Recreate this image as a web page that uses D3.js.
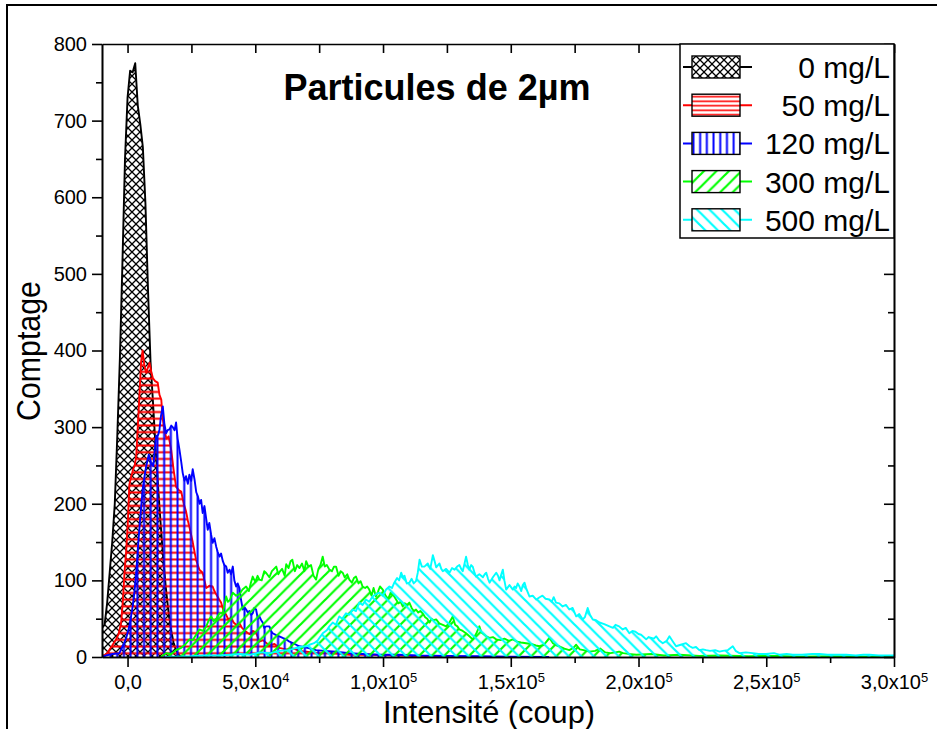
<!DOCTYPE html>
<html><head><meta charset="utf-8">
<script src="https://cdn.jsdelivr.net/npm/d3@7"></script>
<style>
html,body{margin:0;padding:0;background:#fff;}
svg{display:block;font-family:"Liberation Sans",Arial,Helvetica,sans-serif;}
</style></head><body>
<svg id="chart" width="937" height="729"></svg>
<script>
// ---------- DATA (intensity in thousands of coups, count) ----------
const seriesNames = ["0 mg/L", "50 mg/L", "120 mg/L", "300 mg/L", "500 mg/L"];
const titleText = "Particules de 2µm";
const xTitle = "Intensité (coup)";
const yTitle = "Comptage";
const yTickValues = [0, 100, 200, 300, 400, 500, 600, 700, 800];
const yMinorValues = [50, 150, 250, 350, 450, 550, 650, 750];
const xTickValues = [0, 50000, 100000, 150000, 200000, 250000, 300000];
const xMinorValues = [25000, 75000, 125000, 175000, 225000, 275000];
const xTickMantissa = ["0,0", "5,0x10", "1,0x10", "1,5x10", "2,0x10", "2,5x10", "3,0x10"];
const xTickExponent = ["", "4", "5", "5", "5", "5", "5"];

const data0 = [[-10,38],[-9,42],[-8,70],[-7,110],[-6,150],[-5,200],[-4,290],[-3,390],[-2,515],[-1,650],
 [0,730],[1,765],[2,763],[3,775],[4,720],[5,695],[6,665],[7,592],[8,480],[9,385],[10,330],[11,272],
 [12,220],[13,172],[14,128],[15,90],[16,60],[17,36],[18,19],[19,9],[20,3],[21,0]];

const data50 = [[-10,0],[-8,5],[-6,15],[-4.5,23],[-3.5,30],[-2.5,45],[-1.8,75],[-1.2,110],[-0.5,140],
 [0.1,175],[0.7,225],[1.4,235],[2.2,245],[2.8,250],[3.4,262],[4.0,300],[4.7,345],[5.3,385],[5.9,400],
 [6.6,380],[7.3,371],[8.0,378],[8.6,384],[9.3,372],[9.9,364],[10.8,360],[11.8,358],[12.5,342],[13.2,336],
 [13.8,310],[14.4,297],[15.2,285],[16.1,288],[17.1,270],[18.0,245],[19.0,222],[20.0,218],[21.0,216],
 [22.0,200],[22.9,190],[23.6,178],[24.2,170],[25.5,150],[26.8,127],[28.1,114],[29.4,110],[30.1,100],
 [30.8,90],[32.0,93],[33.3,92],[34.0,86],[34.7,82],[35.7,76],[36.6,71],[37.6,60],[38.6,55],[39.6,48],
 [40.5,52],[41.5,45],[42.5,42],[43.8,44],[44.8,38],[46.0,34],[47.7,30],[49.0,34],[50.3,32],[51.6,20],
 [53.0,22],[55.5,15],[57.5,17],[59.4,12],[62,10],[65,11],[67.3,8],[70,7],[75,5],[80,5],[87,3],[95,3],
 [106,2],[115,1],[126,0]];

const data120 = [[-10,0],[-8.4,2],[-5.9,4],[-3.2,5],[-1.9,14],[-0.5,25],[0.7,40],[2.0,66],[2.7,85],[3.4,110],
 [4.0,140],[4.7,170],[5.3,195],[5.9,218],[6.6,235],[7.3,249],[8.3,264],[9.2,254],[10.1,249],[10.6,268],
 [11.2,288],[12.0,290],[12.5,297],[13.1,315],[13.8,327],[14.4,305],[15.1,292],[15.7,296],[16.4,297],
 [17.1,302],[17.7,300],[18.4,296],[19.0,306],[19.6,285],[20.3,271],[21.0,255],[21.6,240],[22.3,230],
 [22.9,236],[23.6,226],[24.2,238],[24.9,230],[25.5,245],[26.2,232],[26.9,215],[27.5,210],[28.2,200],
 [28.8,205],[29.4,188],[30.1,197],[30.8,180],[31.4,166],[32.0,175],[32.7,160],[33.3,149],[34.0,155],
 [34.7,144],[35.3,137],[36.0,131],[36.6,135],[37.3,125],[37.9,120],[38.6,118],[39.2,110],[39.9,114],
 [40.5,108],[41.2,118],[41.8,100],[42.5,92],[43.1,96],[43.8,90],[44.4,75],[45.1,62],[45.8,65],[46.4,62],
 [47.1,58],[47.7,60],[48.4,55],[49.0,57],[49.6,64],[50.3,62],[51.0,50],[51.6,53],[52.3,48],[52.9,45],
 [53.5,38],[54.2,40],[55.5,40],[56.2,34],[56.8,31],[58.0,29],[59.4,27],[60.7,25],[62.1,23],[63.4,20],
 [64.7,18],[66,16],[67.3,14],[70.4,12],[73.8,9],[77,8],[81.6,7],[86.8,5],[92,4],[98.6,3],[106,3],
 [114,2],[125,1.5],[138,1],[150,0.5],[165,0]];

const data300 = [[13,0],[15.1,5],[17,4],[19.0,9],[21,12],[22.5,16],[24.2,23],[25.5,22],[27,30],[28.1,36],
 [29.5,34],[30.8,40],[31.8,48],[32.7,53],[33.7,47],[34.7,50],[36.0,57],[37.3,58],[38.0,68],[38.6,79],
 [39.3,72],[40,74],[41.2,84],[42.5,80],[43.8,82],[45,88],[46.4,92],[47.5,86],[48.2,96],[49.0,105],
 [50,98],[50.9,106],[51.6,101],[52.5,100],[53.5,112],[54.2,110],[55.5,104],[56.5,112],[58.2,118],
 [59.0,108],[59.5,111],[60.5,115],[61.5,106],[62.1,121],[63,116],[63.8,125],[64.5,127],[65.5,112],
 [66.4,120],[67.3,116],[68.3,122],[69.2,112],[69.9,125],[70.8,118],[71.8,120],[72.8,106],[73.8,101],
 [74.7,115],[75.5,120],[76.4,131],[77.2,118],[78.0,120],[79.0,114],[80,112],[80.8,118],[81.6,118],
 [82.6,106],[83.4,112],[84.2,110],[85,104],[86,108],[86.8,101],[87.8,97],[88.6,103],[89.4,105],
 [90.4,96],[91.2,99],[92.0,92],[93,90],[93.8,92],[94.6,88],[95.5,80],[96.3,90],[97.2,79],[98,85],
 [98.8,92],[99.9,88],[101,80],[102,76],[103,84],[104.2,80],[105.1,75],[106,70],[106.9,72],[107.7,66],
 [108.5,70],[109.4,68],[110.3,71],[111.2,64],[112,60],[112.9,62],[113.8,58],[114.6,60],[115.5,57],
 [116.5,52],[117.3,50],[118.2,45],[119,50],[119.8,48],[120.8,49],[122,44],[123.4,42],[124.7,40],
 [126,45],[127.3,53],[128.2,42],[129.1,40],[129.9,36],[131.2,34],[132.5,31],[133.8,27],[135.1,23],
 [136.4,30],[137.7,40],[138.5,32],[139.3,30],[140.4,27],[141.7,25],[143,26],[144.3,23],[146,22],
 [147.5,24],[149.3,21],[150.8,23],[152.5,20],[154,19],[156,18],[158,17],[159.8,15],[161.2,14],
 [163,16],[165.1,25],[166.5,18],[168,15],[169,14],[171,11],[172.9,9],[174.5,12],[175.6,16],[177,10],
 [178.5,9],[180.8,7],[183,8],[185,11],[187,6],[189,5],[191,6],[192.4,7],[194,5],[196,4],[199.2,3],
 [205,4],[210,2],[216,3],[223.8,1.5],[232,2],[243,1],[255,1.5],[263,0.5],[275,1],[290,0.5],[300,0.5]];

const data500 = [[15,0],[25,1],[30,2],[36,2],[40,3],[44,4],[48,3],[52,6],[56,5],[59.4,8],[63,9],[67.3,13],
 [70,14],[71.2,16],[73,18],[74.5,22],[76.4,31],[78,35],[79,40],[80.3,45],[81.5,42],[82.9,53],[84,50],
 [85.5,57],[86.8,55],[88.1,62],[89.4,60],[90.7,71],[92,68],[93.3,75],[94.6,72],[95.9,79],[97.2,82],
 [98.6,84],[99.9,80],[101.2,88],[102.5,92],[103.5,90],[104.4,97],[105.5,103],[106.3,100],[107.1,110],
 [107.8,104],[108.4,106],[109.3,96],[110.3,97],[111.2,102],[112,96],[112.9,99],[113.6,110],[114.3,127],
 [115.2,118],[116.2,118],[117.5,122],[118.5,115],[119.5,133],[120.2,125],[120.8,117],[121.5,120],
 [122.1,122],[122.8,115],[123.4,112],[124.7,115],[126,110],[127,116],[128,114],[129,118],[129.9,120],
 [130.6,115],[131.2,112],[131.9,122],[132.5,131],[133.2,120],[133.8,114],[134.5,120],[135.1,118],
 [135.8,110],[136.4,105],[137.7,108],[139.1,104],[139.8,108],[140.4,110],[141.1,102],[141.7,97],
 [143,104],[144.3,110],[145,106],[145.6,100],[146.3,108],[146.9,114],[147.5,100],[148.2,88],[149.5,94],
 [150.8,88],[151.5,92],[152.1,90],[152.7,96],[153.4,92],[154.1,86],[154.7,94],[155.4,97],[156,90],
 [156.7,84],[157.3,79],[158.6,80],[160,75],[161.3,78],[162.4,80],[163.6,76],[165.1,75],[166,72],
 [166.8,78],[167.7,71],[169,70],[170.3,66],[171.6,68],[172.9,62],[174.2,64],[175.6,53],[176.8,56],
 [178.2,49],[179,52],[180.1,64],[181,55],[182.1,49],[183.4,48],[184.7,45],[186.6,43],[188.6,40],
 [190,38],[191,42],[192.4,40],[193.8,36],[195,38],[196.4,31],[197.6,34],[198.8,33],[200,30],[201,29],
 [202,26],[203,23],[204,26],[205,25],[206,24],[206.9,27],[208,22],[209.5,18],[211,21],[212.1,27],
 [213.5,20],[214.7,14],[216.5,16],[218.6,18],[220,14],[221.2,12],[222.5,13],[223.8,9],[225.2,10],
 [226.5,9],[228,8],[230,9],[231.7,7],[233,8],[235,9],[236.9,14],[238,8],[239.5,5],[242,6],[244.7,5],
 [247,4],[249.9,4],[253,5],[255.1,3],[258,4],[260.4,3],[264,3],[268,4],[270.8,4],[274,3],[278,3],
 [281.3,3],[285,2],[288,3],[290.4,3],[294,2],[297,2],[300,2]];

const seriesData = [data0, data50, data120, data300, data500];

// ---------- STYLE ----------
const colors = ["#000000", "#ff0000", "#0000ff", "#00ff00", "#00ffff"];
const fontFamily = '"Liberation Sans", Arial, Helvetica, sans-serif';

const svg = d3.select("#chart");
const plot = {left: 102, right: 894, top: 44, bottom: 657};

const x = d3.scaleLinear().domain([-10000, 300000]).range([plot.left, plot.right]);
const y = d3.scaleLinear().domain([0, 800]).range([plot.bottom, plot.top]);

// ---------- patterns ----------
const defs = svg.append("defs");
function pattern(id, w, h, d, color, sw) {
  const p = defs.append("pattern").attr("id", id).attr("patternUnits", "userSpaceOnUse")
    .attr("width", w).attr("height", h);
  p.append("path").attr("d", d).attr("stroke", color).attr("stroke-width", sw).attr("fill", "none");
}
pattern("pat0", 8, 8, "M-1,-1L9,9M9,-1L-1,9", colors[0], 1.3);
pattern("pat1", 8, 6.7, "M0,3.35L8,3.35", colors[1], 2);
pattern("pat1L", 8, 4.5, "M0,2.25L8,2.25", colors[1], 1.6);
pattern("pat2", 6.7, 8, "M3.35,0L3.35,8", colors[2], 2);
pattern("pat3", 12.5, 12.5, "M0,12.5L12.5,0M-3,3L3,-3M9.5,15.5L15.5,9.5", colors[3], 2.2);
pattern("pat4", 12.5, 12.5, "M0,0L12.5,12.5M-3,9.5L3,15.5M9.5,-3L15.5,3", colors[4], 2.2);
const fillIds = ["pat0", "pat1", "pat2", "pat3", "pat4"];
const legendFillIds = ["pat0", "pat1L", "pat2", "pat3", "pat4"];

defs.append("clipPath").attr("id", "clip").append("rect")
  .attr("x", plot.left).attr("y", plot.top)
  .attr("width", plot.right - plot.left).attr("height", plot.bottom - plot.top);

// ---------- outer frame (partial) ----------
svg.append("path").attr("d", "M7,729L7,5L937,5").attr("fill", "none")
  .attr("stroke", "#000").attr("stroke-width", 2);

// ---------- series ----------
const area = d3.area().x(d => x(d[0] * 1000)).y0(y(0)).y1(d => y(d[1]));
const line = d3.line().x(d => x(d[0] * 1000)).y(d => y(d[1]));
const g = svg.append("g").attr("clip-path", "url(#clip)");
seriesData.forEach((data, i) => {
  g.append("path").datum(data).attr("d", area).attr("fill", `url(#${fillIds[i]})`).attr("stroke", "none");
  g.append("path").datum(data).attr("d", line).attr("fill", "none")
    .attr("stroke", colors[i]).attr("stroke-width", 1.9).attr("stroke-linejoin", "round");
});

// ---------- axes ----------
function styleAxis(sel) {
  sel.select(".domain").attr("stroke", "#000").attr("stroke-width", 1.6);
  sel.selectAll(".tick line").attr("stroke", "#000").attr("stroke-width", 1.6);
  sel.selectAll("text").attr("font-family", fontFamily).attr("font-size", 20).attr("fill", "#000");
}
// bottom
const gBottom = svg.append("g").attr("transform", `translate(0,${plot.bottom})`)
  .call(d3.axisBottom(x).tickValues(xTickValues).tickSize(10).tickSizeOuter(0).tickPadding(8)
    .tickFormat((d, i) => xTickMantissa[i]));
gBottom.call(styleAxis);
gBottom.selectAll(".tick text").each(function(d, i) {
  if (xTickExponent[i]) {
    d3.select(this).append("tspan").attr("dy", "-0.55em").attr("font-size", 13).text(xTickExponent[i]);
  }
});
svg.append("g").attr("transform", `translate(0,${plot.bottom})`)
  .call(d3.axisBottom(x).tickValues(xMinorValues).tickSize(6).tickSizeOuter(0).tickFormat(""))
  .call(styleAxis);
// top
svg.append("g").attr("transform", `translate(0,${plot.top})`)
  .call(d3.axisTop(x).tickValues(xTickValues.concat(xMinorValues)).tickSize(-9).tickSizeOuter(0).tickFormat(""))
  .call(styleAxis);
// left
svg.append("g").attr("transform", `translate(${plot.left},0)`)
  .call(d3.axisLeft(y).tickValues(yTickValues).tickSize(10).tickSizeOuter(0).tickPadding(5))
  .call(styleAxis);
svg.append("g").attr("transform", `translate(${plot.left},0)`)
  .call(d3.axisLeft(y).tickValues(yMinorValues).tickSize(6).tickSizeOuter(0).tickFormat(""))
  .call(styleAxis);
// right
svg.append("g").attr("transform", `translate(${plot.right},0)`)
  .call(d3.axisRight(y).tickValues(yTickValues).tickSize(-10).tickSizeOuter(0).tickFormat(""))
  .call(styleAxis);
svg.append("g").attr("transform", `translate(${plot.right},0)`)
  .call(d3.axisRight(y).tickValues(yMinorValues).tickSize(-6).tickSizeOuter(0).tickFormat(""))
  .call(styleAxis);

// ---------- titles ----------
svg.append("text").attr("x", 437).attr("y", 100).attr("text-anchor", "middle")
  .attr("font-family", fontFamily).attr("font-weight", "bold").attr("font-size", 36)
  .text(titleText);
svg.append("text").attr("x", 489).attr("y", 723).attr("text-anchor", "middle")
  .attr("font-family", fontFamily).attr("font-size", 32)
  .attr("textLength", 212).attr("lengthAdjust", "spacingAndGlyphs").text(xTitle);
svg.append("text").attr("transform", "translate(40,351) rotate(-90)").attr("text-anchor", "middle")
  .attr("font-family", fontFamily).attr("font-size", 34)
  .attr("textLength", 140).attr("lengthAdjust", "spacingAndGlyphs").text(yTitle);

// ---------- legend ----------
const lg = svg.append("g");
lg.append("rect").attr("x", 680).attr("y", plot.top).attr("width", plot.right - 680).attr("height", 194)
  .attr("fill", "#fff").attr("stroke", "#000").attr("stroke-width", 1.5);
seriesNames.forEach((name, i) => {
  const cy = 67 + i * 38.2;
  lg.append("line").attr("x1", 683).attr("x2", 752).attr("y1", cy).attr("y2", cy)
    .attr("stroke", colors[i]).attr("stroke-width", 2);
  lg.append("rect").attr("x", 692).attr("y", cy - 11).attr("width", 48).attr("height", 22)
    .attr("fill", "#fff");
  lg.append("rect").attr("x", 692).attr("y", cy - 11).attr("width", 48).attr("height", 22)
    .attr("fill", `url(#${legendFillIds[i]})`).attr("stroke", "#000").attr("stroke-width", 1.4);
  lg.append("text").attr("x", 890).attr("y", cy + 11).attr("text-anchor", "end")
    .attr("font-family", fontFamily).attr("font-size", 30).text(name);
});
</script>
</body></html>
